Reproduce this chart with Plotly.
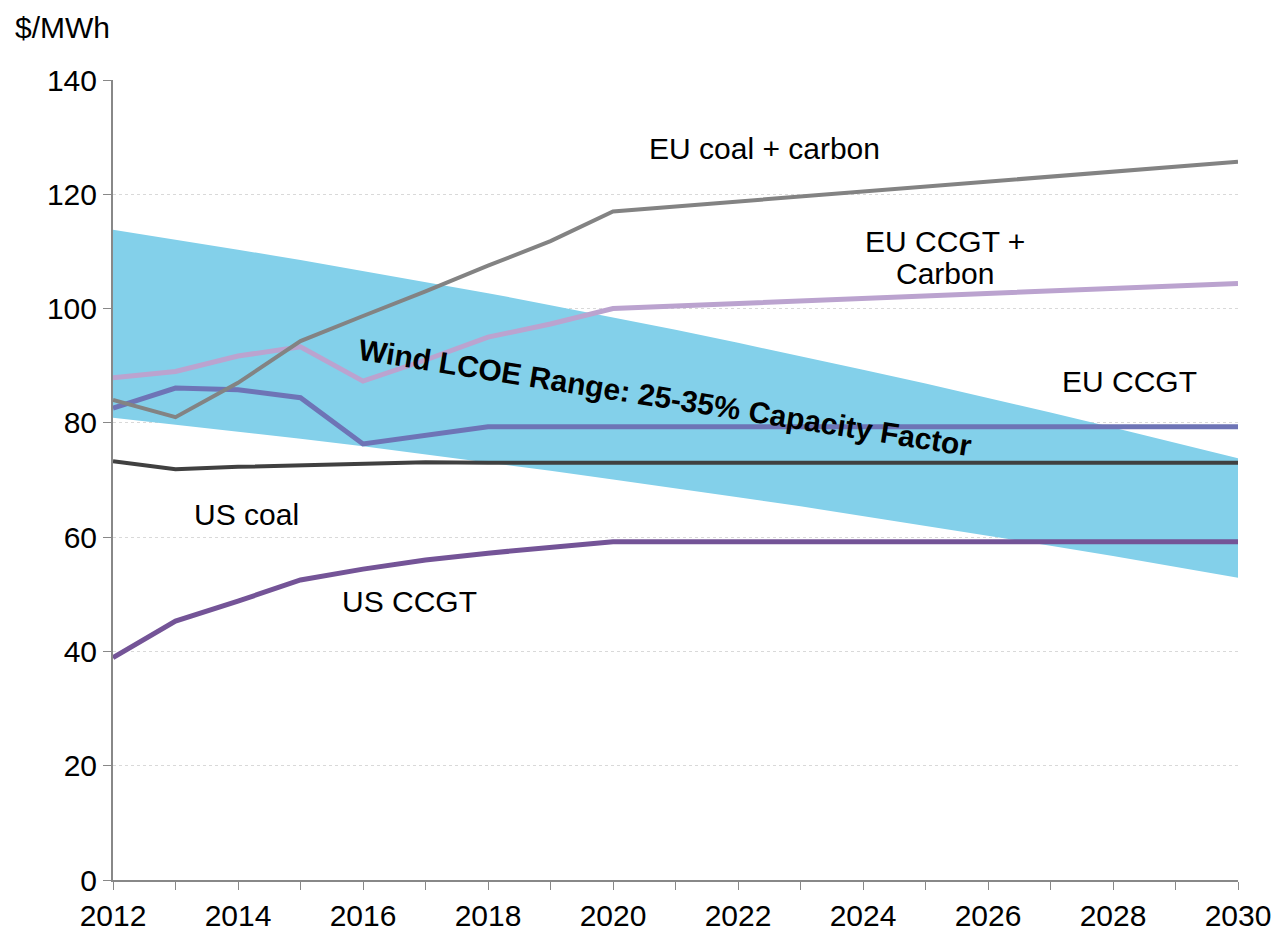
import plotly.graph_objects as go

years = list(range(2012, 2031))

# Wind LCOE band (upper = 25% CF, lower = 35% CF)
wind_upper = [113.8, 112.1, 110.3, 108.5, 106.6, 104.7, 102.7, 100.6, 98.5, 96.3,
              94.0, 91.7, 89.3, 86.9, 84.4, 81.8, 79.2, 76.5, 73.8]
wind_lower = [80.9, 79.7, 78.5, 77.2, 75.9, 74.5, 73.1, 71.6, 70.1, 68.6,
              67.0, 65.4, 63.7, 62.0, 60.3, 58.5, 56.7, 54.8, 52.9]

line_years = [2012, 2013, 2014, 2015, 2016, 2017, 2018, 2019, 2020, 2030]
eu_coal_carbon = [84.0, 81.0, 87.0, 94.3, 98.7, 103.0, 107.5, 111.8, 117.0, 125.7]
eu_ccgt_carbon = [87.9, 89.0, 91.7, 93.3, 87.3, 91.0, 95.0, 97.3, 100.0, 104.4]
eu_ccgt = [82.6, 86.1, 85.8, 84.4, 76.3, 77.7, 79.3, 79.3, 79.3, 79.3]
us_coal = [73.3, 71.9, 72.3, 72.6, 72.9, 73.1, 73.0, 73.0, 73.0, 73.0]
us_ccgt = [38.9, 45.3, 48.8, 52.5, 54.4, 56.0, 57.2, 58.1, 59.2, 59.2]

y_ticks = [0, 20, 40, 60, 80, 100, 120, 140]
x_tick_labels = [str(y) if y % 2 == 0 else "" for y in years]

FONT = "Liberation Sans, Arial, sans-serif"
FS = 30

fig = go.Figure()

# band
fig.add_trace(go.Scatter(x=years, y=wind_lower, mode="lines", line=dict(width=0),
                         hoverinfo="skip", showlegend=False))
fig.add_trace(go.Scatter(x=years, y=wind_upper, mode="lines", line=dict(width=0),
                         fill="tonexty", fillcolor="#83D0EA", showlegend=False,
                         name="Wind LCOE Range"))

fig.add_trace(go.Scatter(x=line_years, y=us_coal, mode="lines",
                         line=dict(color="#404040", width=4), name="US coal"))
fig.add_trace(go.Scatter(x=line_years, y=us_ccgt, mode="lines",
                         line=dict(color="#745497", width=5), name="US CCGT"))
fig.add_trace(go.Scatter(x=line_years, y=eu_ccgt, mode="lines",
                         line=dict(color="#6E74B6", width=5), name="EU CCGT"))
fig.add_trace(go.Scatter(x=line_years, y=eu_ccgt_carbon, mode="lines",
                         line=dict(color="#BBA3CF", width=5), name="EU CCGT + Carbon"))
fig.add_trace(go.Scatter(x=line_years, y=eu_coal_carbon, mode="lines",
                         line=dict(color="#838383", width=4), name="EU coal + carbon"))

ann_font = dict(family=FONT, size=FS, color="#000000")
annotations = [
    dict(x=2022.43, y=128.1, text="EU coal + carbon"),
    dict(x=2025.31, y=111.8, text="EU CCGT +"),
    dict(x=2025.31, y=106.2, text="Carbon"),
    dict(x=2028.27, y=87.2, text="EU CCGT"),
    dict(x=2014.14, y=64.05, text="US coal"),
    dict(x=2016.75, y=48.8, text="US CCGT"),
]
for a in annotations:
    fig.add_annotation(x=a["x"], y=a["y"], text=a["text"], showarrow=False,
                       font=ann_font, xanchor="center", yanchor="middle")

fig.add_annotation(x=2020.83, y=84.4, text="<b>Wind LCOE Range: 25-35% Capacity Factor</b>",
                   showarrow=False, textangle=9,
                   font=dict(family=FONT, size=FS, color="#000000"),
                   xanchor="center", yanchor="middle")

fig.add_annotation(xref="paper", yref="paper", x=-99 / 1125, y=1 + 70 / 800,
                   text="$/MWh", showarrow=False, xanchor="left", yanchor="top",
                   borderpad=0, font=ann_font)

fig.update_layout(
    width=1288, height=937,
    margin=dict(l=105, r=58, t=72, b=65),
    paper_bgcolor="white", plot_bgcolor="white",
    showlegend=False,
    font=dict(family=FONT, size=FS, color="#000000"),
    xaxis=dict(range=[2012, 2030], tickmode="array", tickvals=years,
               ticktext=x_tick_labels, ticks="outside", ticklen=8, tickcolor="#888888",
               showline=True, linecolor="#888888", linewidth=2, showgrid=False,
               zeroline=False, tickfont=dict(size=FS)),
    yaxis=dict(range=[0, 140], tickmode="array", tickvals=y_ticks,
               ticks="outside", ticklen=8, tickcolor="#888888",
               showline=True, linecolor="#888888", linewidth=2,
               showgrid=True, gridcolor="#D9D9D9", griddash="dot", gridwidth=1,
               zeroline=False, tickfont=dict(size=FS)),
)

fig.write_html("out.html")
